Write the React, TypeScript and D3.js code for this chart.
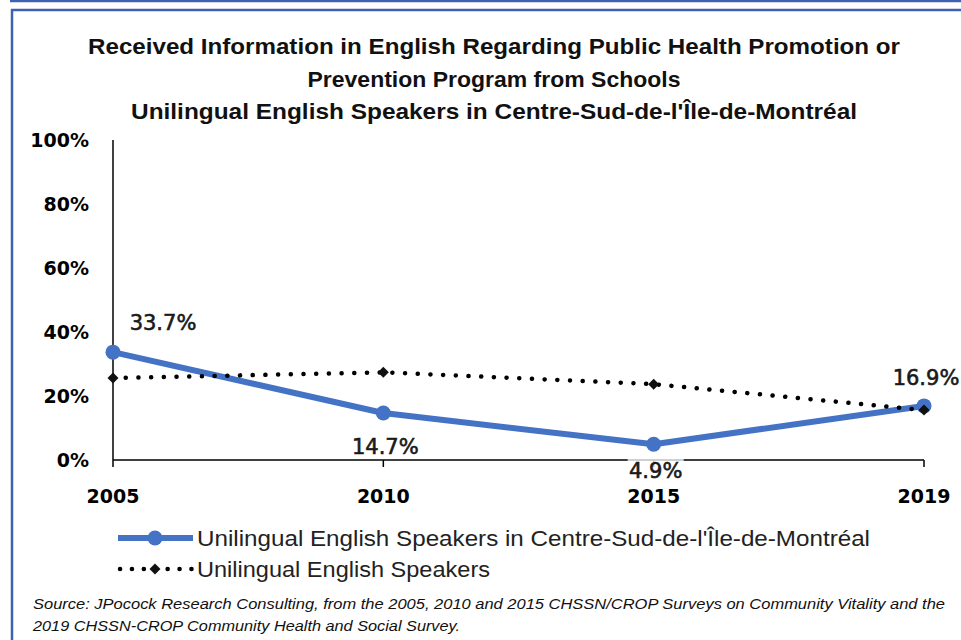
import React from "react";
import * as d3 from "d3";

const years = ["2005", "2010", "2015", "2019"];
const centreSud = [33.7, 14.7, 4.9, 16.9];
const allSpeakers = [25.6, 27.4, 23.7, 15.6];
const yTicks = [0, 20, 40, 60, 80, 100];
const titleLines = [
  "Received Information in English Regarding Public Health Promotion or",
  "Prevention Program from Schools",
  "Unilingual English Speakers in Centre-Sud-de-l'Île-de-Montréal",
];
const seriesNames = [
  "Unilingual English Speakers in Centre-Sud-de-l'Île-de-Montréal",
  "Unilingual English Speakers",
];
const sourceLines = [
  "Source: JPocock Research Consulting, from the 2005, 2010  and 2015  CHSSN/CROP Surveys on Community Vitality and the",
  "2019  CHSSN-CROP Community Health and Social Survey.",
];

const W = 961;
const H = 640;
const BLUE = "#4472C4";
const FRAME = "#3F62AE";

export default function App() {
  const x = d3.scalePoint<string>().domain(years).range([113, 924]);
  const y = d3.scaleLinear().domain([0, 100]).range([460, 140]);
  const line = d3
    .line<number>()
    .x((_, i) => x(years[i]) as number)
    .y((d) => y(d));

  const diamond = d3.symbol().type(d3.symbolSquare).size(60)() as string;

  // label offsets (dx, dy) relative to point
  const labelOffsets = [
    [50, -30],
    [2, 33],
    [2, 26],
    [2, -28],
  ];

  const narrow = "'Liberation Sans Narrow', 'Liberation Sans', Arial, sans-serif";

  return (
    <svg
      width={W}
      height={H}
      style={{ position: "absolute", left: 0, top: 0, background: "#fff" }}
    >
      <rect x={0} y={0} width={W} height={H} fill="#fff" />
      {/* frame */}
      <line x1={10} x2={W} y1={1} y2={1} stroke={FRAME} strokeWidth={2.5} />
      <line x1={11} x2={W} y1={10} y2={10} stroke={FRAME} strokeWidth={2.5} />
      <line x1={12} x2={12} y1={9} y2={H} stroke={FRAME} strokeWidth={2.5} />

      {/* title */}
      {titleLines.map((t, i) => (
        <text
          key={i}
          x={494}
          y={54 + i * 32.5}
          textAnchor="middle"
          fontFamily={narrow}
          fontWeight="bold"
          fontSize={22.5}
          fill="#111"
          textLength={[812, 373, 726][i]}
          lengthAdjust="spacingAndGlyphs"
        >
          {t}
        </text>
      ))}

      {/* axes */}
      <line x1={113} x2={113} y1={y(100)} y2={y(0)} stroke="#000" strokeWidth={1.5} />
      <line x1={113} x2={924} y1={y(0)} y2={y(0)} stroke="#000" strokeWidth={1.5} />
      {years.map((yr) => (
        <line
          key={yr}
          x1={x(yr)}
          x2={x(yr)}
          y1={y(0)}
          y2={y(0) + 7}
          stroke="#000"
          strokeWidth={1.5}
        />
      ))}
      {yTicks.map((t) => (
        <text
          key={t}
          x={89}
          y={y(t)}
          dy="0.36em"
          textAnchor="end"
          fontFamily="'DejaVu Sans', sans-serif"
          fontWeight="bold"
          fontSize={19}
          fill="#000"
        >
          {t}%
        </text>
      ))}
      {years.map((yr) => (
        <text
          key={yr}
          x={x(yr)}
          y={496}
          dy="0.36em"
          textAnchor="middle"
          fontFamily="'DejaVu Sans', sans-serif"
          fontWeight="bold"
          fontSize={19}
          fill="#000"
        >
          {yr}
        </text>
      ))}

      {/* blue series */}
      <path d={line(centreSud) as string} fill="none" stroke={BLUE} strokeWidth={6} strokeLinejoin="round" />
      {centreSud.map((v, i) => (
        <circle key={i} cx={x(years[i])} cy={y(v)} r={7.5} fill={BLUE} />
      ))}

      {/* black dotted series */}
      <path
        d={line(allSpeakers) as string}
        fill="none"
        stroke="#000"
        strokeWidth={4.5}
        strokeLinecap="round"
        strokeDasharray="0.1 12.6"
      />
      {allSpeakers.map((v, i) => (
        <path
          key={i}
          d={diamond}
          transform={`translate(${x(years[i])},${y(v)}) rotate(45)`}
          fill="#111"
        />
      ))}

      {/* data labels */}
      {centreSud.map((v, i) => {
        const cx = (x(years[i]) as number) + labelOffsets[i][0];
        const cy = y(v) + labelOffsets[i][1];
        return (
          <g key={i}>
            {i === 2 && (
              <rect x={cx - 28} y={cy - 12} width={56} height={22} fill="#fff" opacity={0.75} />
            )}
            <text
              x={cx}
              y={cy}
              dy="0.36em"
              textAnchor="middle"
              fontFamily="'DejaVu Sans', sans-serif"
              fontSize={21}
              fill="#1a1a1a"
              stroke="#1a1a1a"
              strokeWidth={0.6}
            >
              {v.toFixed(1)}%
            </text>
          </g>
        );
      })}

      {/* legend */}
      <line x1={118} x2={193} y1={538} y2={538} stroke={BLUE} strokeWidth={6} />
      <circle cx={155} cy={538} r={7.5} fill={BLUE} />
      <text
        x={197}
        y={538}
        dy="0.36em"
        fontFamily="'Liberation Sans', Arial, sans-serif"
        fontSize={22.5}
        fill="#222"
        textLength={673}
        lengthAdjust="spacingAndGlyphs"
      >
        {seriesNames[0]}
      </text>
      <line
        x1={120}
        x2={192}
        y1={569}
        y2={569}
        stroke="#000"
        strokeWidth={4.5}
        strokeLinecap="round"
        strokeDasharray="0.1 11.8"
      />
      <path d={diamond} transform="translate(155,569) rotate(45)" fill="#111" />
      <text
        x={197}
        y={569}
        dy="0.36em"
        fontFamily="'Liberation Sans', Arial, sans-serif"
        fontSize={22.5}
        fill="#222"
        textLength={293}
        lengthAdjust="spacingAndGlyphs"
      >
        {seriesNames[1]}
      </text>

      {/* source */}
      {sourceLines.map((s, i) => (
        <text
          key={i}
          x={33}
          y={603 + i * 22}
          dy="0.36em"
          fontFamily={narrow}
          fontStyle="italic"
          fontSize={15.5}
          fill="#111"
          textLength={[912, 427][i]}
          lengthAdjust="spacingAndGlyphs"
        >
          {s}
        </text>
      ))}
    </svg>
  );
}
